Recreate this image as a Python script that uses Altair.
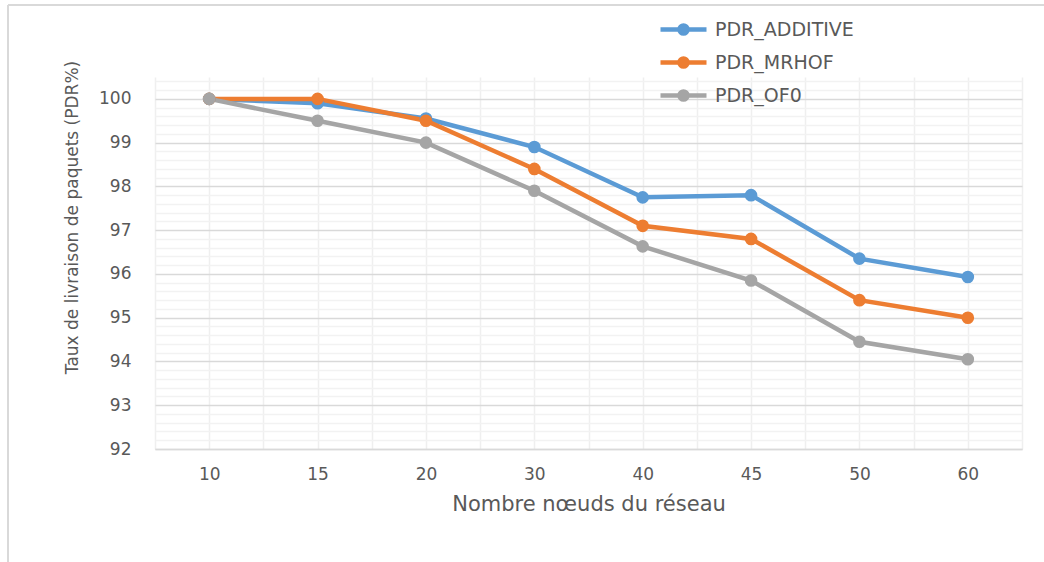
import altair as alt
import pandas as pd

nodes = ["10", "15", "20", "30", "40", "45", "50", "60"]
series_names = ["PDR_ADDITIVE", "PDR_MRHOF", "PDR_OF0"]
additive = [100.0, 99.9, 99.55, 98.9, 97.75, 97.8, 96.35, 95.93]
mrhof = [100.0, 100.0, 99.5, 98.4, 97.1, 96.8, 95.4, 95.0]
of0 = [100.0, 99.5, 99.0, 97.9, 96.63, 95.85, 94.45, 94.05]
colors = ["#5b9bd5", "#ed7d31", "#a5a5a5"]

rows = []
for name, vals in zip(series_names, [additive, mrhof, of0]):
    for i, (n, v) in enumerate(zip(nodes, vals)):
        rows.append({"series": name, "idx": i, "node": n, "pdr": v})
df = pd.DataFrame(rows)

FONT = "DejaVu Sans"
TXT = "#595959"
W, H = 867, 372
PL, PT = 155, 77

label_js = "[" + ",".join(f"'{n}'" for n in nodes) + "]"
x_vals = [i * 0.5 - 0.5 for i in range(17)]
y_vals = [round(92 + 0.2 * i, 1) for i in range(43)]

x_axis = alt.Axis(
    values=x_vals,
    labelExpr=f"datum.value % 1 === 0 ? {label_js}[datum.value] : ''",
    labelOverlap=False, labelFlush=False,
    ticks=False, labelPadding=17,
    labelFont=FONT, labelFontSize=17, labelColor=TXT,
    grid=True, gridColor="#efefef", gridWidth=1.5,
    domainColor="#d9d9d9", domainWidth=1.5,
    title="Nombre nœuds du réseau", titleFont=FONT, titleFontSize=21,
    titleFontWeight="normal", titleColor=TXT, titleY=55, titleBaseline="middle",
)
y_axis = alt.Axis(
    values=y_vals,
    labelExpr="datum.value % 1 === 0 ? format(datum.value, 'd') : ''",
    labelOverlap=False, labelFlush=False,
    ticks=False, domain=False, labelPadding=24,
    labelFont=FONT, labelFontSize=17, labelColor=TXT,
    grid=True,
    gridColor={"condition": {"test": "datum.value % 1 === 0", "value": "#d9d9d9"}, "value": "#f2f2f2"},
    gridWidth=1.5,
    title="Taux de livraison de paquets (PDR%)", titleFont=FONT, titleFontSize=17,
    titleFontWeight="normal", titleColor=TXT,
    titleX=72 - PL, titleY=217 - PT, titleBaseline="middle", titleAngle=-90,
)

# line segment with a dot in the middle (unit = 11.5 px)
legend_path = ("M-2,0 L2,0 "
               "M0.35,0 A0.35,0.35 0 1,1 -0.35,0 A0.35,0.35 0 1,1 0.35,0 "
               "M0.13,0 A0.13,0.13 0 1,1 -0.13,0 A0.13,0.13 0 1,1 0.13,0")

x_enc = alt.X("idx:Q", scale=alt.Scale(domain=[-0.5, 7.5], nice=False, zero=False), axis=x_axis)
y_enc = alt.Y("pdr:Q", scale=alt.Scale(domain=[92, 100.5], nice=False, zero=False), axis=y_axis)

lines = alt.Chart(df).mark_line(strokeWidth=4.5).encode(
    x=x_enc, y=y_enc,
    stroke=alt.Stroke("series:N", scale=alt.Scale(domain=series_names, range=colors), legend=alt.Legend(
        title=None, orient="none", legendX=681 - PL - 11.5, legendY=27 - PT - 11.5,
        symbolType=legend_path, symbolSize=529, symbolStrokeWidth=4.5,
        labelOffset=17.5, rowPadding=5,
        labelFont=FONT, labelFontSize=19, labelColor=TXT,
    )),
    detail="series:N",
)
points = alt.Chart(df).mark_point(filled=True, size=160, opacity=1).encode(
    x=x_enc, y=y_enc,
    color=alt.Color("series:N", scale=alt.Scale(domain=series_names, range=colors), legend=None),
)

frame = alt.Data(values=[{}])
top_line = alt.Chart(frame).mark_rule(color="#d9d9d9", strokeWidth=2).encode(
    x=alt.value(8 - PL), x2=alt.value(1044 - PL), y=alt.value(5 - PT))
left_line = alt.Chart(frame).mark_rule(color="#d9d9d9", strokeWidth=2).encode(
    x=alt.value(8 - PL), y=alt.value(5 - PT), y2=alt.value(562 - PT))

chart = alt.layer(lines, points, top_line, left_line).properties(
    width=W, height=H,
    autosize=alt.AutoSizeParams(type="none"),
    padding={"left": PL, "top": PT, "right": 1044 - PL - W, "bottom": 562 - PT - H},
    background="white",
).configure_view(stroke=None)

chart.save("out.html", embed_options={"renderer": "svg", "actions": False})
